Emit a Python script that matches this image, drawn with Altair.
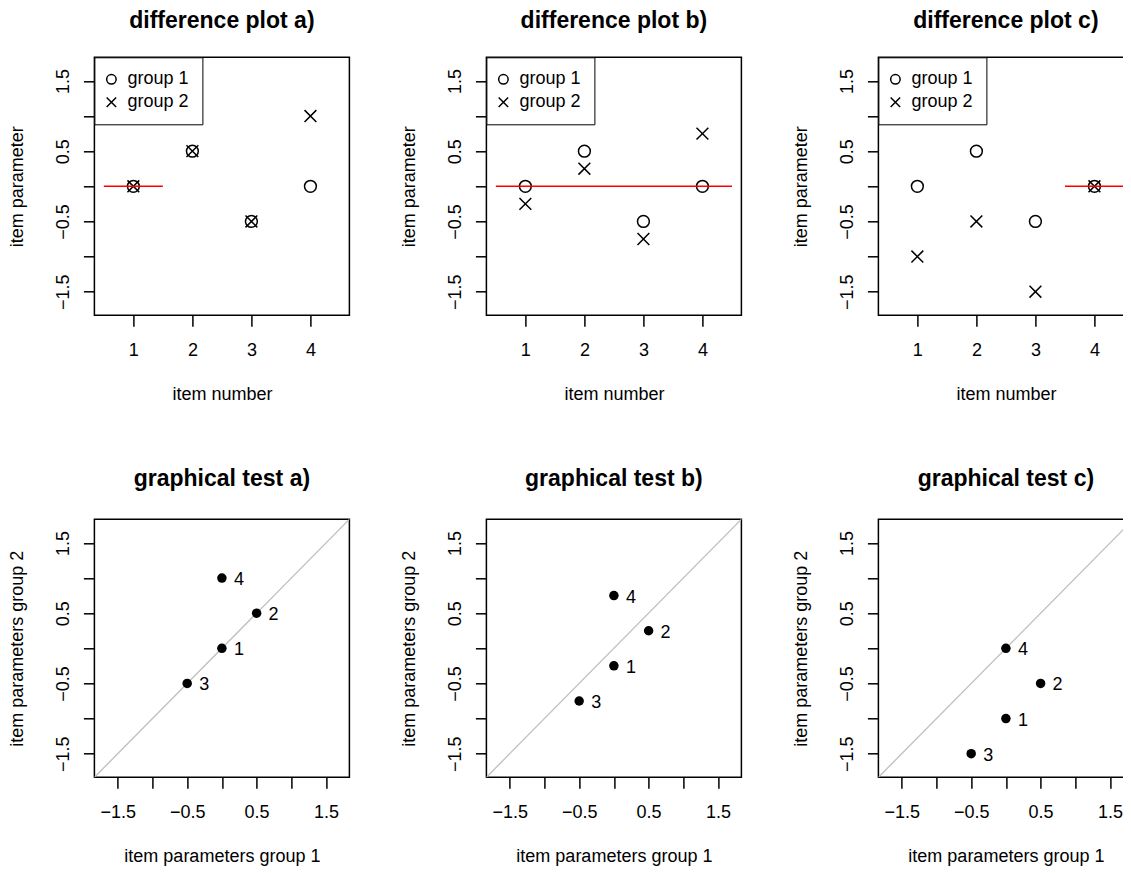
import altair as alt
import pandas as pd

FONT = "Liberation Sans"

# ---- data ----
items = [1, 2, 3, 4]
item_labels = ["1", "2", "3", "4"]
group_names = ["group 1", "group 2"]
group1 = [0.0, 0.5, -0.5, 0.0]
group2_a = [0.0, 0.5, -0.5, 1.0]
group2_b = [-0.25, 0.25, -0.75, 0.75]
group2_c = [-1.0, -0.5, -1.5, 0.0]
group2_sets = [group2_a, group2_b, group2_c]
panel_letters = ["a", "b", "c"]
red_start = [0.5, 0.5, 3.5]
red_end = [1.5, 4.5, 4.5]
red_level = [0.0, 0.0, 0.0]
param_ticks = [-1.5, -1.0, -0.5, 0.0, 0.5, 1.0, 1.5]
diag_line = [-2.0, 2.0]
item_domain = [0.34, 4.66]
param_domain = [-1.836, 1.836]

CROSS = "M-1,-1L1,1M1,-1L-1,1"
W, H = 255, 258
LABEL_EXPR = "abs(datum.value) == 0.5 || abs(datum.value) == 1.5 ? datum.label : ''"


def y_axis(title):
    return alt.Axis(values=param_ticks, format=".1f", labelExpr=LABEL_EXPR,
                    labelAngle=270, labelAlign="center", labelBaseline="alphabetic",
                    labelPadding=14.5, labelOverlap=False, labelFlush=False,
                    title=title, titleAngle=270, titleX=-72, titleY=H / 2,
                    titleAlign="center", titleBaseline="alphabetic")


def x_axis(title, values, fmt, expr=None):
    kw = dict(values=values, format=fmt, labelBaseline="alphabetic", labelPadding=29,
              labelOverlap=False, labelFlush=False, title=title, titleX=W / 2, titleY=84.5,
              titleAlign="center", titleBaseline="alphabetic")
    if expr:
        kw["labelExpr"] = expr
    return alt.Axis(**kw)


def title_params(text, offset):
    return alt.TitleParams(text=text, font=FONT, fontSize=23, fontWeight="bold", color="black",
                           anchor="middle", frame="group", baseline="alphabetic", offset=offset)


def diff_panel(i):
    g2 = group2_sets[i]
    df = pd.DataFrame({
        "item": items * 2,
        "value": group1 + g2,
        "group": [group_names[0]] * 4 + [group_names[1]] * 4,
    })
    seg = pd.DataFrame({"item": [red_start[i]], "item2": [red_end[i]], "value": [red_level[i]]})
    xs = alt.Scale(domain=item_domain, nice=False, zero=False)
    ys = alt.Scale(domain=param_domain, nice=False, zero=False)
    x = alt.X("item:Q", scale=xs, axis=x_axis("item number", items, "d"))
    y = alt.Y("value:Q", scale=ys, axis=y_axis("item parameter"))
    legend = alt.Legend(title=None, orient="top-left", offset=0, padding=13,
                        strokeColor="black", fillColor="white",
                        labelFont=FONT, labelFontSize=18, labelColor="black",
                        labelOffset=7, symbolOffset=-5, rowPadding=5, symbolSize=90,
                        symbolStrokeWidth=1.5, symbolStrokeColor="black",
                        symbolFillColor="transparent")
    pts = alt.Chart(df).mark_point(filled=False, size=140, strokeWidth=1.5, color="black",
                                   opacity=1).encode(
        x=x, y=y,
        shape=alt.Shape("group:N", scale=alt.Scale(domain=group_names, range=["circle", CROSS]),
                        legend=legend),
    )
    red = alt.Chart(seg).mark_rule(color="red", strokeWidth=1.5).encode(
        x=x, x2=alt.X2("item2:Q"), y=y)
    return alt.layer(pts, red).properties(
        width=W, height=H, title=title_params(f"difference plot {panel_letters[i]})", 6))


def test_panel(i):
    g2 = group2_sets[i]
    df = pd.DataFrame({"g1": group1, "g2": g2, "label": item_labels})
    ddf = pd.DataFrame({"g1": diag_line, "g2": diag_line})
    sc = alt.Scale(domain=param_domain, nice=False, zero=False)
    x = alt.X("g1:Q", scale=sc, axis=x_axis("item parameters group 1", param_ticks, ".1f", LABEL_EXPR))
    y = alt.Y("g2:Q", scale=sc, axis=y_axis("item parameters group 2"))
    line = alt.Chart(ddf).mark_line(color="#bebebe", strokeWidth=1.3, clip=True).encode(x=x, y=y)
    pts = alt.Chart(df).mark_circle(size=90, color="black", opacity=1).encode(x=x, y=y)
    txt = alt.Chart(df).mark_text(align="left", baseline="alphabetic", dx=12, dy=7, font=FONT,
                                  fontSize=18, color="black").encode(x=x, y=y, text="label:N")
    return alt.layer(line, pts, txt).properties(
        width=W, height=H, title=title_params(f"graphical test {panel_letters[i]})", 10))


panels = [diff_panel(i) for i in range(3)] + [test_panel(i) for i in range(3)]

SVG_W, SVG_H = 1115, 858
ORIGIN_X, ORIGIN_Y = 86.4, 49.3

chart = alt.concat(
    *panels, columns=3, spacing={"row": 204, "column": 137}, bounds="flush"
).resolve_scale(
    x="independent", y="independent", shape="independent"
).resolve_legend(
    shape="independent"
).properties(
    autosize=alt.AutoSizeParams(type="none"),
    padding={"left": ORIGIN_X, "top": ORIGIN_Y,
             "right": SVG_W - ORIGIN_X, "bottom": SVG_H - ORIGIN_Y},
    background="white",
).configure_view(
    stroke="black", strokeWidth=1.5
).configure_axis(
    domain=False, grid=False, ticks=True, tickColor="black", tickWidth=1.5, tickSize=11,
    labelFont=FONT, labelFontSize=18, labelColor="black",
    titleFont=FONT, titleFontSize=18, titleColor="black", titleFontWeight="normal",
)

chart.save("out.html", embed_options={"renderer": "svg", "actions": False})
